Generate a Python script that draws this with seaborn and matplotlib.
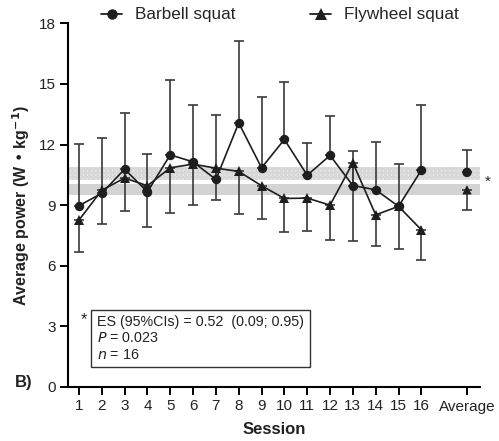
import numpy as np
import pandas as pd
import matplotlib
matplotlib.use("Agg")
import matplotlib.pyplot as plt
import seaborn as sns
from matplotlib.lines import Line2D

# ---- data ----
sessions = list(range(1, 17))
barbell_mean = [8.97, 9.59, 10.78, 9.66, 11.49, 11.14, 10.27, 13.07,
                10.85, 12.25, 10.48, 11.46, 9.97, 9.76, 8.94, 10.73]
barbell_upper = [12.05, 12.3, 13.58, 11.54, 15.2, 13.98, 13.45, 17.1,
                 14.33, 15.08, 12.1, 13.4, 11.7, 12.15, 11.03, 13.95]
flywheel_mean = [8.26, 9.74, 10.34, 9.96, 10.85, 11.03, 10.83, 10.67,
                 9.96, 9.33, 9.35, 9.0, 11.1, 8.52, 8.94, 7.78]
flywheel_lower = [6.66, 8.08, 8.69, 7.9, 8.6, 8.99, 9.26, 8.54,
                  8.29, 7.65, 7.73, 7.28, 7.24, 6.96, 6.82, 6.28]
avg_barbell = 10.62
avg_barbell_upper = 11.72
avg_flywheel = 9.76
avg_flywheel_lower = 8.75
band_barbell = (10.24, 10.9)
band_flywheel = (9.5, 10.07)
x_labels = [str(s) for s in sessions] + ["Average"]
y_ticks = [0, 3, 6, 9, 12, 15, 18]
avg_pos = 18

sns.set_style("ticks")
plt.rcParams['font.family'] = ['Liberation Sans', 'DejaVu Sans']
plt.rcParams['hatch.linewidth'] = 2.0

fig = plt.figure(figsize=(4.99, 4.41), dpi=100)
ax = fig.add_axes([68/499, 1-387/441, (480-68)/499, (387-23.3)/441])

xl, xr = 0.52, 18.57
# bands
ax.fill_between([xl, xr], band_barbell[0], band_barbell[1], facecolor='#f0f0f0',
                edgecolor='#d8d8d8', hatch='++++', linewidth=0, zorder=0)
ax.fill_between([xl, xr], band_flywheel[0], band_flywheel[1], facecolor='#d3d3d3',
                linewidth=0, zorder=0)

df = pd.DataFrame({
    "Session": sessions * 2,
    "Power": barbell_mean + flywheel_mean,
    "Exercise": ["Barbell squat"] * 16 + ["Flywheel squat"] * 16,
})

ecol = '#3a3a3a'
lcol = '#1e1e1e'
eb_kw = dict(fmt='none', ecolor=ecol, elinewidth=1.2, capsize=3.3, capthick=1.2, zorder=2)
b_err = np.array(barbell_upper) - np.array(barbell_mean)
f_err = np.array(flywheel_mean) - np.array(flywheel_lower)
ax.errorbar(sessions, barbell_mean, yerr=[np.zeros(16), b_err], **eb_kw)
ax.errorbar(sessions, flywheel_mean, yerr=[f_err, np.zeros(16)], **eb_kw)
ax.errorbar([avg_pos], [avg_barbell], yerr=[[0], [avg_barbell_upper - avg_barbell]], **eb_kw)
ax.errorbar([avg_pos], [avg_flywheel], yerr=[[avg_flywheel - avg_flywheel_lower], [0]], **eb_kw)

sns.lineplot(data=df, x="Session", y="Power", hue="Exercise", style="Exercise",
             markers={"Barbell squat": "o", "Flywheel squat": "^"}, dashes=False,
             palette={"Barbell squat": lcol, "Flywheel squat": lcol},
             markersize=6.8, linewidth=1.2, markeredgewidth=0, ax=ax, zorder=3,
             legend=False)
avg_df = pd.DataFrame({"x": [avg_pos, avg_pos], "y": [avg_barbell, avg_flywheel],
                       "Exercise": ["Barbell squat", "Flywheel squat"]})
sns.scatterplot(data=avg_df, x="x", y="y", style="Exercise",
                markers={"Barbell squat": "o", "Flywheel squat": "^"},
                color=lcol, s=46, linewidth=0, ax=ax, zorder=4, legend=False)

# legend
handles = [Line2D([], [], color=lcol, lw=1.3, marker='o', markersize=7.5, markeredgewidth=0),
           Line2D([], [], color=lcol, lw=1.3, marker='^', markersize=8, markeredgewidth=0)]
fig.legend(handles, ["Barbell squat", "Flywheel squat"], ncol=2, frameon=False,
           loc='center', bbox_to_anchor=(280/499, 1-15/441), fontsize=12.3,
           handlelength=1.2, handletextpad=0.75, columnspacing=4.4)

ax.set_xlim(xl, xr)
ax.set_ylim(0, 18)
ax.set_xticks(sessions + [avg_pos])
ax.set_xticklabels(x_labels)
ax.set_yticks(y_ticks)
ax.set_yticklabels([str(t) for t in y_ticks])
ax.tick_params(axis='both', labelsize=11, width=1.4, length=6, color='black', pad=3,
               labelcolor='#222222')
for s in ['top', 'right']:
    ax.spines[s].set_visible(False)
for s in ['left', 'bottom']:
    ax.spines[s].set_linewidth(1.5)
    ax.spines[s].set_color('black')

ax.set_xlabel("Session", fontsize=12, fontweight='bold', labelpad=6, color='#222222')
ax.set_ylabel("Average power (W • kg$^{\\mathbf{-1}}$)", fontsize=11.5, fontweight='bold',
              labelpad=5, color='#222222')

# annotations
ax.text(18.9, (band_barbell[0] + band_flywheel[1]) / 2, "*", fontsize=11, ha='center',
        va='center', clip_on=False)
fig.text(84/499, 1-320/441, "*", fontsize=12, ha='center', va='center')
box_txt = "ES (95%CIs) = 0.52  (0.09; 0.95)\n$P$ = 0.023\n$n$ = 16"
fig.text(97/499, 1-338.5/441, box_txt, fontsize=10.3, ha='left', va='center', linespacing=1.2,
         color='#222222',
         bbox=dict(boxstyle='square,pad=0.4', facecolor='white', edgecolor='#333333', linewidth=1.0))
fig.text(24/499, 1-383/441, "B)", fontsize=12, fontweight='bold', ha='center', va='center',
         color='#222222')

fig.savefig("out.png", dpi=100)
